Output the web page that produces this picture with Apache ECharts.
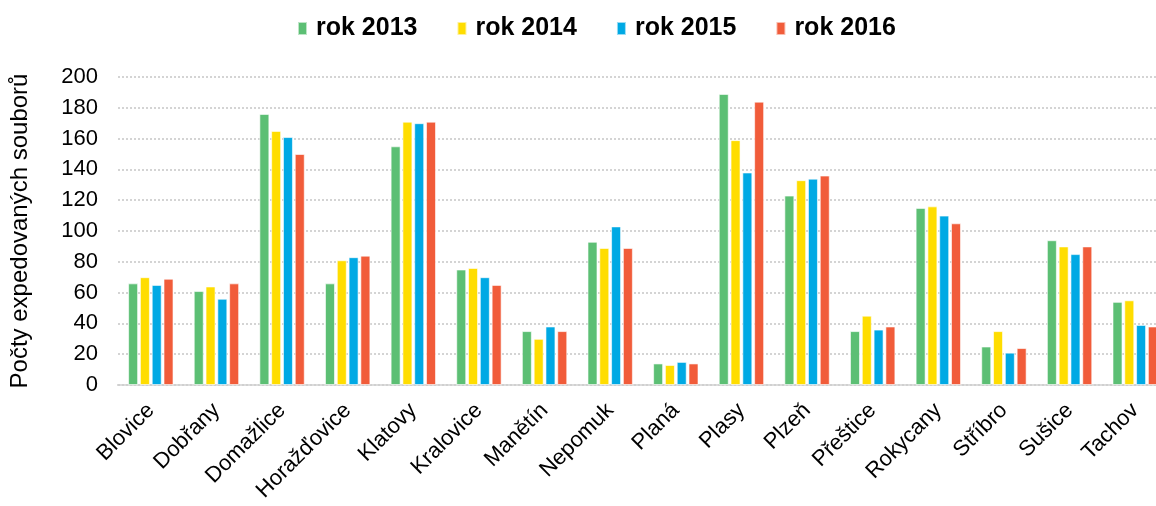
<!DOCTYPE html>
<html>
<head>
<meta charset="utf-8">
<script src="https://cdn.jsdelivr.net/npm/echarts@6/dist/echarts.min.js"></script>
<style>
  html, body { margin: 0; padding: 0; background: #fff; overflow: hidden; }
  /* graf je o kousek širší než okno, pravý okraj je v originále oříznutý */
  #chart { width: 1168px; height: 506px; }
</style>
</head>
<body>
<div id="chart"></div>
<script>
// kategorie (obce)
const categories = ['Blovice', 'Dobřany', 'Domažlice', 'Horažďovice', 'Klatovy', 'Kralovice', 'Manětín',
  'Nepomuk', 'Planá', 'Plasy', 'Plzeň', 'Přeštice', 'Rokycany', 'Stříbro', 'Sušice', 'Tachov']

const rok2013 = [66, 61, 176, 66, 155, 75, 35, 93, 14, 189, 123, 35, 115, 25, 94, 54]
const rok2014 = [70, 64, 165, 81, 171, 76, 30, 89, 13, 159, 133, 45, 116, 35, 90, 55]
const rok2015 = [65, 56, 161, 83, 170, 70, 38, 103, 15, 138, 134, 36, 110, 21, 85, 39]
const rok2016 = [69, 66, 150, 84, 171, 65, 35, 89, 14, 184, 136, 38, 105, 24, 90, 38]

const seriesNames = ['rok 2013', 'rok 2014', 'rok 2015', 'rok 2016']
const colors = ['#5cbf74', '#ffdd00', '#00a9e4', '#f15c3a']

const font = '"Liberation Sans", Arial, sans-serif'

const chart = echarts.init(document.getElementById('chart'))

const option = {
  animation: false,
  color: colors,
  textStyle: { fontFamily: font },
  legend: {
    top: 11,
    left: 292,
    itemWidth: 9,
    itemHeight: 13,
    itemGap: 39,
    icon: 'rect',
    textStyle: { fontSize: 25, fontWeight: 'bold', color: '#000', fontFamily: font, padding: [0, 0, 0, 4] },
  },
  grid: { left: 116, right: 0, top: 77, bottom: 121 },
  xAxis: {
    type: 'category',
    data: categories,
    axisTick: { show: false },
    axisLine: { lineStyle: { color: '#d0d0d0', width: 2, type: 'dotted' } },
    axisLabel: {
      rotate: 45,
      interval: 0,
      fontSize: 22,
      color: '#000',
      margin: 22,
      fontFamily: font,
    },
  },
  yAxis: {
    type: 'value',
    min: 0,
    max: 200,
    interval: 20,
    name: 'Počty expedovaných souborů',
    nameLocation: 'middle',
    nameGap: 86,
    nameTextStyle: { fontSize: 24, color: '#000', fontFamily: font },
    axisLine: { show: false },
    axisTick: { show: false },
    axisLabel: { fontSize: 22, color: '#000', margin: 20, fontFamily: font },
    splitLine: { lineStyle: { color: '#d4d4d4', width: 2, type: 'dotted' } },
  },
  series: [rok2013, rok2014, rok2015, rok2016].map((data, i) => ({
    name: seriesNames[i],
    type: 'bar',
    data,
    barWidth: 10,
    barGap: '18%',
    itemStyle: { borderColor: 'rgba(255,255,255,0.6)', borderWidth: 1 },
  })),
}

chart.setOption(option)
</script>
</body>
</html>
